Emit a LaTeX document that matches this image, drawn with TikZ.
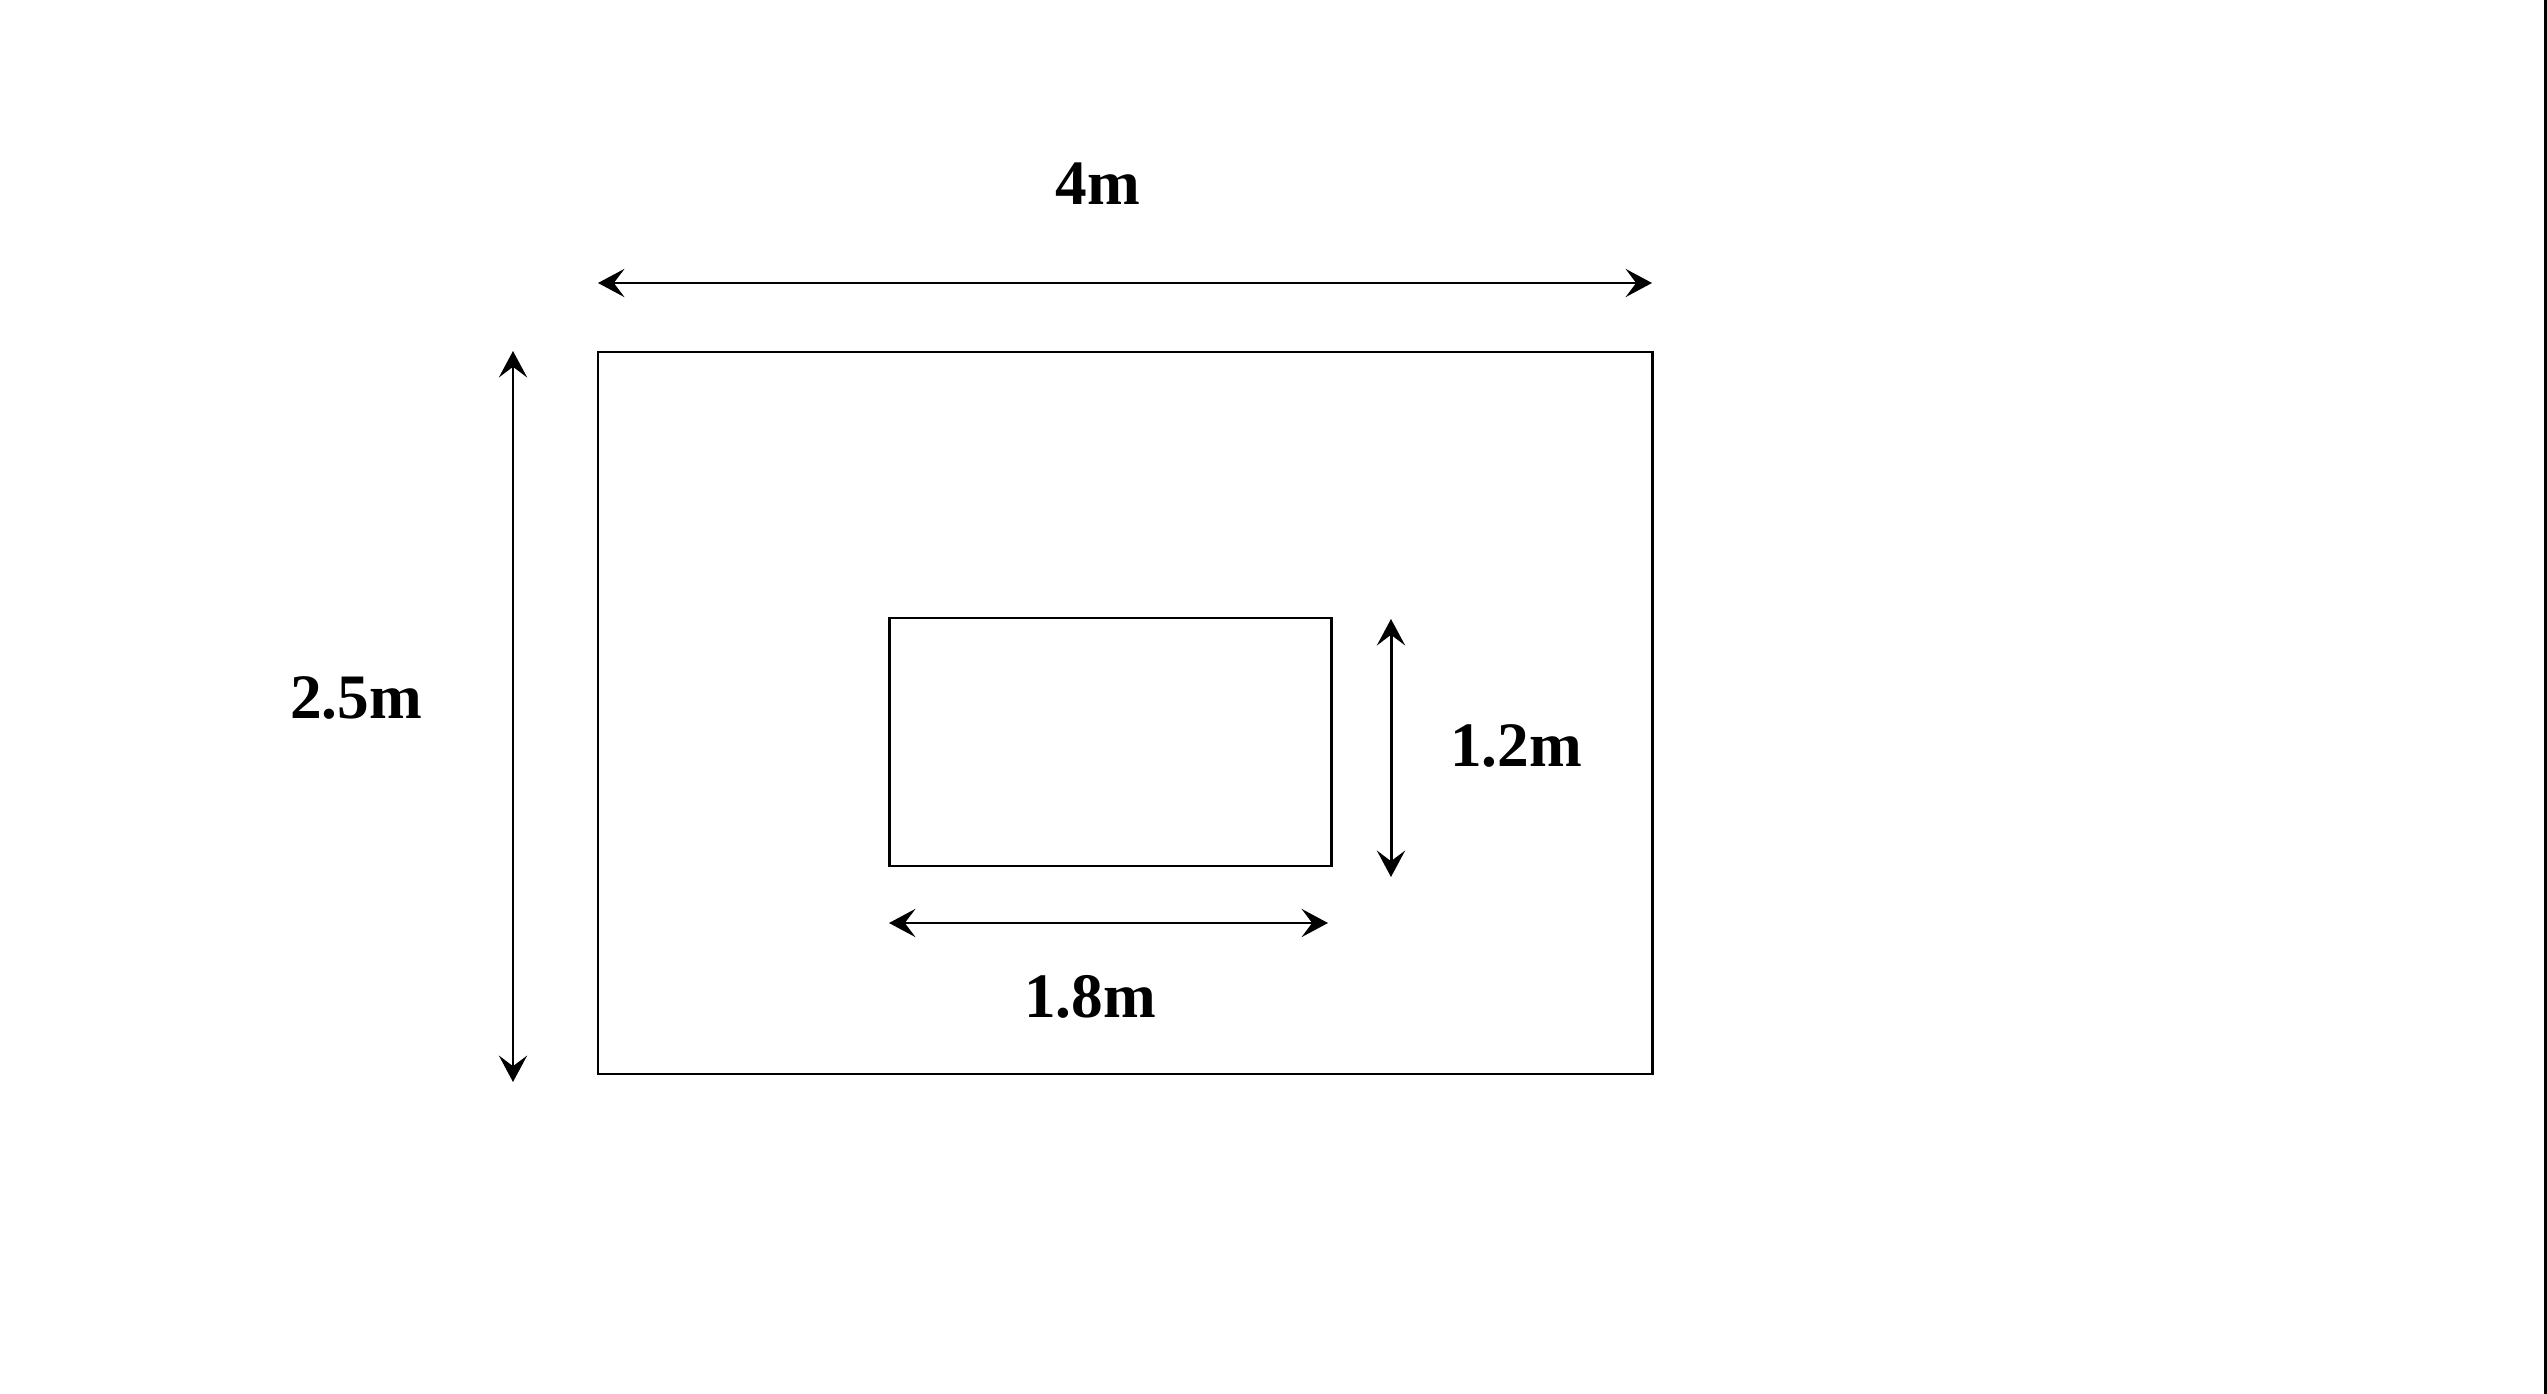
\documentclass[tikz,border=0pt]{standalone}
\usepackage{fontspec}
\setmainfont{Liberation Serif}
\usetikzlibrary{arrows.meta}

\begin{document}
\begin{tikzpicture}[x=0.01cm,y=-0.01cm,line width=0.85pt,
    dim/.style={<->,>={Stealth[length=7.5pt,width=8pt,inset=3pt]}},
    lbl/.style={inner sep=0pt,font=\bfseries\fontsize{18}{20}\selectfont}]
  \useasboundingbox (0,0) rectangle (2547,1394);
  % plate and opening
  \coordinate (plateA) at (598,352);
  \coordinate (plateB) at (1652,1074);
  \coordinate (holeA) at (889,618);
  \coordinate (holeB) at (1331,866);
  \draw (plateA) rectangle (plateB);
  \draw (holeA) rectangle (holeB);
  % dimension ends
  \coordinate (topL) at (598,283);
  \coordinate (topR) at (1652,283);
  \coordinate (leftT) at (513,351);
  \coordinate (leftB) at (513,1082);
  \coordinate (botL) at (889,923);
  \coordinate (botR) at (1328,923);
  \coordinate (sideT) at (1391,619);
  \coordinate (sideB) at (1391,877);
  \draw[dim] (topL) -- (topR);
  \draw[dim] (leftT) -- (leftB);
  \draw[dim] (botL) -- (botR);
  \draw[dim] (sideT) -- (sideB);
  % labels
  \node[lbl] (lenPlate) at (1098,184) {4m};
  \node[lbl] (hPlate) at (356,698) {2.5m};
  \node[lbl] (lenHole) at (1090,997) {1.8m};
  \node[lbl] (hHole) at (1516,746) {1.2m};
  % frame edge
  \coordinate (edgeT) at (2545,0);
  \coordinate (edgeB) at (2545,1394);
  \draw[line width=0.03cm] (edgeT) -- (edgeB);
\end{tikzpicture}
\end{document}
